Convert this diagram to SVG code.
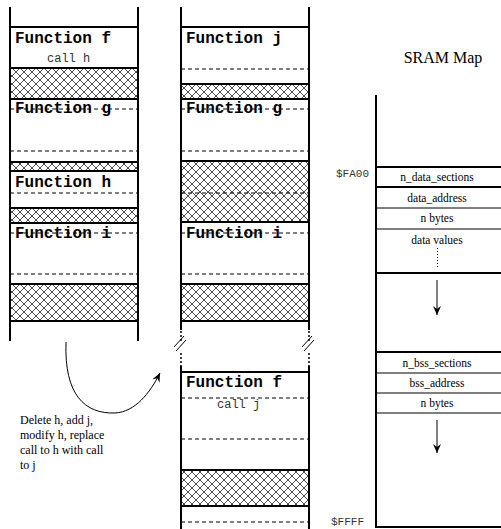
<svg xmlns="http://www.w3.org/2000/svg" width="501" height="529" viewBox="0 0 501 529">
<defs>
<pattern id="hatch" width="8" height="8" patternUnits="userSpaceOnUse">
<rect width="8" height="8" fill="#fff"/>
<path d="M0 0 L8 8 M8 0 L0 8 M-1 7 L1 9 M7 -1 L9 1 M-1 1 L1 -1 M7 9 L9 7" stroke="#222" stroke-width="0.8" fill="none"/>
</pattern>
<marker id="arr" markerWidth="10" markerHeight="8" refX="9" refY="4" orient="auto" markerUnits="userSpaceOnUse">
<path d="M0 0 L9 4 L0 8 L3 4 Z" fill="#000"/>
</marker>
</defs>
<style>
.v{stroke:#000;stroke-width:2;fill:none}
.t{stroke:#000;stroke-width:2}
.n{stroke:#000;stroke-width:1}
.d{stroke:#000;stroke-width:1;stroke-dasharray:4 3}
.dot{stroke:#000;stroke-width:1.5;stroke-dasharray:2 2}
.h{fill:url(#hatch);stroke:#000;stroke-width:2}
.fn{font-family:"Liberation Mono",monospace;font-weight:bold;font-size:16px;fill:#000}
.call{font-family:"Liberation Mono",monospace;font-size:12px;fill:#333}
.addr{font-family:"Liberation Mono",monospace;font-size:11px;fill:#333}
.tm{font-family:"Liberation Serif",serif;font-size:12px;fill:#000}
.lab{font-family:"Liberation Serif",serif;font-size:11.5px;fill:#000;text-anchor:middle}
</style>

<g id="column-before">
<line class="v" x1="10" y1="7" x2="10" y2="341"/>
<line class="v" x1="138" y1="7" x2="138" y2="341"/>
<line class="t" x1="10" y1="27" x2="138" y2="27"/>
<rect class="h" x="10" y="68" width="128" height="31"/>
<line class="d" x1="10" y1="109" x2="138" y2="109"/>
<line class="d" x1="10" y1="151" x2="138" y2="151"/>
<rect class="h" x="10" y="162" width="128" height="9"/>
<line class="d" x1="10" y1="193" x2="138" y2="193"/>
<rect class="h" x="10" y="208" width="128" height="15"/>
<line class="d" x1="10" y1="233" x2="138" y2="233"/>
<line class="d" x1="10" y1="274" x2="138" y2="274"/>
<rect class="h" x="10" y="284" width="128" height="37"/>
<text class="fn" x="15" y="43">Function f</text>
<text class="call" x="47" y="62">call h</text>
<text class="fn" x="15" y="113">Function g</text>
<text class="fn" x="15" y="187">Function h</text>
<text class="fn" x="15" y="238">Function i</text>
</g>

<g id="column-after">
<line class="v" x1="181" y1="7" x2="181" y2="330"/>
<line class="v" x1="309" y1="7" x2="309" y2="330"/>
<line class="t" x1="181" y1="27" x2="309" y2="27"/>
<line class="d" x1="181" y1="69" x2="309" y2="69"/>
<rect class="h" x="181" y="84" width="128" height="15"/>
<line class="d" x1="181" y1="109" x2="309" y2="109"/>
<line class="d" x1="181" y1="151" x2="309" y2="151"/>
<rect class="h" x="181" y="161" width="128" height="61"/>
<line class="d" x1="181" y1="193" x2="309" y2="193"/>
<line class="d" x1="181" y1="233" x2="309" y2="233"/>
<line class="d" x1="181" y1="274" x2="309" y2="274"/>
<rect class="h" x="181" y="284" width="128" height="37"/>
<text class="fn" x="186" y="43">Function j</text>
<text class="fn" x="186" y="113">Function g</text>
<text class="fn" x="186" y="238">Function i</text>
<line class="dot" x1="181" y1="331" x2="181" y2="341"/>
<line class="dot" x1="309" y1="331" x2="309" y2="341"/>
<path d="M174 347 L184 336 M176 351 L186 340" stroke="#000" stroke-width="1" fill="none"/>
<path d="M302 347 L312 336 M304 351 L314 340" stroke="#000" stroke-width="1" fill="none"/>
<line class="dot" x1="181" y1="353" x2="181" y2="366"/>
<line class="dot" x1="309" y1="353" x2="309" y2="366"/>
<line class="v" x1="181" y1="366" x2="181" y2="529"/>
<line class="v" x1="309" y1="366" x2="309" y2="529"/>
<line class="t" x1="181" y1="372" x2="309" y2="372"/>
<line class="d" x1="181" y1="398" x2="309" y2="398"/>
<line class="d" x1="181" y1="439" x2="309" y2="439"/>
<rect class="h" x="181" y="470" width="128" height="36"/>
<line class="d" x1="181" y1="522" x2="309" y2="522"/>
<text class="fn" x="186" y="387">Function f</text>
<text class="call" x="217" y="408">call j</text>
</g>

<g id="sram-map">
<text x="443" y="63" font-family="Liberation Serif,serif" font-size="16" text-anchor="middle">SRAM Map</text>
<line class="v" x1="376" y1="95" x2="376" y2="528"/>
<line class="t" x1="376" y1="167" x2="501" y2="167"/>
<line class="t" x1="376" y1="187" x2="501" y2="187"/>
<line class="n" x1="376" y1="208" x2="501" y2="208"/>
<line class="n" x1="376" y1="229" x2="501" y2="229" stroke-width="1.5"/>
<line class="t" x1="376" y1="273" x2="501" y2="273"/>
<line class="t" x1="376" y1="352" x2="501" y2="352"/>
<line class="n" x1="376" y1="373" x2="501" y2="373"/>
<line class="n" x1="376" y1="393" x2="501" y2="393"/>
<line class="n" x1="376" y1="413" x2="501" y2="413"/>
<line class="t" x1="376" y1="527" x2="501" y2="527"/>
<text class="addr" x="336" y="177">$FA00</text>
<text class="addr" x="331" y="525">$FFFF</text>
<text class="lab" x="437" y="181">n_data_sections</text>
<text class="lab" x="437" y="202">data_address</text>
<text class="lab" x="437" y="222">n bytes</text>
<text class="lab" x="437" y="244">data values</text>
<line x1="437.5" y1="248" x2="437.5" y2="268" stroke="#000" stroke-width="1" stroke-dasharray="1 2"/>
<line x1="437" y1="280" x2="437" y2="315" stroke="#000" stroke-width="1" marker-end="url(#arr)"/>
<text class="lab" x="437" y="367">n_bss_sections</text>
<text class="lab" x="437" y="387">bss_address</text>
<text class="lab" x="437" y="407">n bytes</text>
<line x1="437" y1="420" x2="437" y2="453" stroke="#000" stroke-width="1" marker-end="url(#arr)"/>
</g>

<g id="connectors">
<path d="M66 342 C64 395 85 414 115 413 C135 412 150 393 160 373" stroke="#000" stroke-width="1" fill="none" marker-end="url(#arr)"/>
</g>

<g id="note">
<text class="tm" x="20" y="424">Delete h, add j,</text>
<text class="tm" x="20" y="439">modify h, replace</text>
<text class="tm" x="20" y="454">call to h with call</text>
<text class="tm" x="20" y="469">to j</text>
</g>
</svg>
